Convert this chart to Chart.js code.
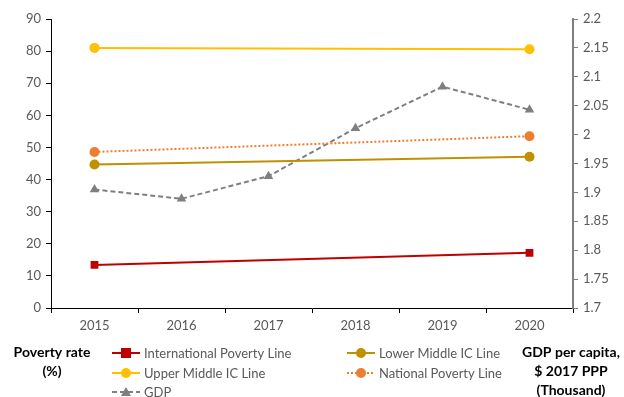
<!DOCTYPE html>
<html>
<head>
<meta charset="utf-8">
<script src="https://cdn.jsdelivr.net/npm/chart.js@4/dist/chart.umd.min.js"></script>
<style>
  html, body { margin: 0; padding: 0; background: #fff; }
  #wrap { position: relative; width: 624px; height: 397px; overflow: hidden; }
</style>
</head>
<body>
<div id="wrap"><canvas id="chart" width="624" height="397"></canvas></div>
<script>
// ---- data ----
const years = ['2015', '2016', '2017', '2018', '2019', '2020'];
const intlPoverty  = [13.4, null, null, null, null, 17.2];
const lowerMiddle  = [44.7, null, null, null, null, 47.1];
const upperMiddle  = [81.0, null, null, null, null, 80.6];
const nationalLine = [48.6, null, null, null, null, 53.5];
const gdp          = [1.905, 1.889, 1.928, 2.011, 2.083, 2.043];

const leftTitle  = ['Poverty rate', '(%)'];
const rightTitle = ['GDP per capita,', '$ 2017 PPP', '(Thousand)'];

const COLOR = {
  intl:  '#C00000',
  lower: '#BF9000',
  upper: '#FFC000',
  nat:   '#ED7D31',
  gdp:   '#7F7F7F',
  text:  '#595959',
};
const FONT = 'Lato, "Open Sans", sans-serif';

Chart.defaults.font.family = FONT;
Chart.defaults.color = COLOR.text;

const datasets = [
  { label: 'International Poverty Line', data: intlPoverty, yAxisID: 'y',
    borderColor: COLOR.intl, backgroundColor: COLOR.intl, pointStyle: 'rect', pointRadius: 5.5 },
  { label: 'Lower Middle IC Line', data: lowerMiddle, yAxisID: 'y',
    borderColor: COLOR.lower, backgroundColor: COLOR.lower, pointStyle: 'circle', pointRadius: 5 },
  { label: 'Upper Middle IC Line', data: upperMiddle, yAxisID: 'y',
    borderColor: COLOR.upper, backgroundColor: COLOR.upper, pointStyle: 'circle', pointRadius: 5 },
  { label: 'National Poverty Line', data: nationalLine, yAxisID: 'y', borderDash: [2, 2],
    borderColor: COLOR.nat, backgroundColor: COLOR.nat, pointStyle: 'circle', pointRadius: 5 },
  { label: 'GDP', data: gdp, yAxisID: 'y2', borderDash: [5, 3],
    borderColor: COLOR.gdp, backgroundColor: COLOR.gdp, pointStyle: 'triangle', pointRadius: 5.5 },
].map(d => Object.assign({
  borderWidth: 2, spanGaps: true, tension: 0, fill: false,
  pointBorderWidth: 0, pointHoverRadius: 0,
}, d));

// legend + bottom titles drawn on canvas
const legendPlugin = {
  id: 'bottomLegend',
  afterDraw(chart) {
    const ctx = chart.ctx;
    ctx.save();
    // axis titles
    ctx.fillStyle = '#000';
    ctx.font = `bold 14px ${FONT}`;
    ctx.textAlign = 'center';
    ctx.textBaseline = 'middle';
    leftTitle.forEach((t, i) => ctx.fillText(t, 52, 352 + i * 19));
    rightTitle.forEach((t, i) => ctx.fillText(t, 571, 352 + i * 19));

    // legend entries
    const slots = [[112, 353], [347, 353], [112, 373], [347, 373], [112, 392]];
    chart.data.datasets.forEach((ds, i) => {
      const [x, y] = slots[i];
      ctx.strokeStyle = ds.borderColor;
      ctx.lineWidth = 2;
      ctx.setLineDash(ds.borderDash || []);
      ctx.beginPath();
      ctx.moveTo(x, y); ctx.lineTo(x + 28, y);
      ctx.stroke();
      ctx.setLineDash([]);
      ctx.fillStyle = ds.backgroundColor;
      const cx = x + 14;
      if (ds.pointStyle === 'rect') {
        ctx.fillRect(cx - 5, y - 5, 10, 10);
      } else if (ds.pointStyle === 'triangle') {
        ctx.beginPath();
        ctx.moveTo(cx, y - 5); ctx.lineTo(cx + 5, y + 4); ctx.lineTo(cx - 5, y + 4);
        ctx.closePath(); ctx.fill();
      } else {
        ctx.beginPath(); ctx.arc(cx, y, 5, 0, Math.PI * 2); ctx.fill();
      }
      ctx.fillStyle = COLOR.text;
      ctx.font = `13px ${FONT}`;
      ctx.textAlign = 'left';
      ctx.fillText(ds.label, x + 32, y + 1);
    });
    ctx.restore();
  }
};

new Chart(document.getElementById('chart').getContext('2d'), {
  type: 'line',
  data: { labels: years, datasets },
  options: {
    responsive: false,
    animation: false,
    layout: { padding: { top: 19, left: 0, right: 0, bottom: 0 } },
    plugins: { legend: { display: false }, tooltip: { enabled: false } },
    scales: {
      x: {
        offset: true,
        grid: { offset: true, drawOnChartArea: false, drawTicks: true, tickLength: 5, color: '#000' },
        border: { display: true, color: '#000', width: 1 },
        ticks: { color: COLOR.text, font: { size: 13 }, padding: 5, maxRotation: 0 },
        afterFit: s => { s.height = 89; },
      },
      y: {
        position: 'left', min: 0, max: 90,
        grid: { drawOnChartArea: false, drawTicks: true, tickLength: 5, color: '#000' },
        border: { display: true, color: '#000', width: 1 },
        ticks: { stepSize: 10, color: COLOR.text, font: { size: 13 }, padding: 5 },
        afterFit: s => { s.width = 51; },
      },
      y2: {
        position: 'right', min: 1.7, max: 2.2,
        grid: { drawOnChartArea: false, drawTicks: true, tickLength: 5, color: '#808080' },
        border: { display: true, color: '#808080', width: 2 },
        ticks: { stepSize: 0.05, color: COLOR.text, font: { size: 13 }, padding: 5,
                 callback: v => +v.toFixed(2) },
        afterFit: s => { s.width = 51; },
      },
    },
  },
  plugins: [legendPlugin],
});
</script>
</body>
</html>
